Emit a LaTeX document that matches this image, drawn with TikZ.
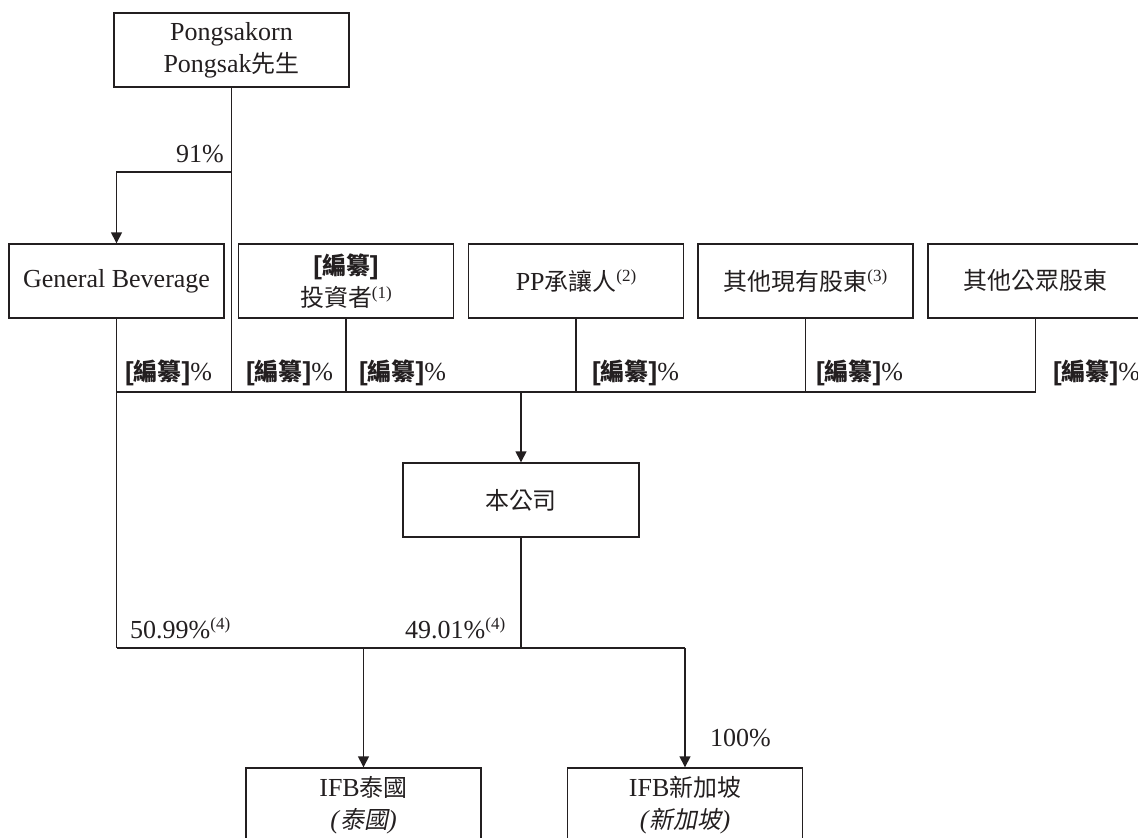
\documentclass[tikz,border=0pt]{standalone}
\usepackage{fontspec}
\setmainfont{Liberation Serif}
\newfontfamily\cjk{Noto Sans CJK TC}[Scale=0.92]
\newfontfamily\cjkit{Noto Sans CJK TC}[Scale=0.92,FakeSlant=0.2]
\newfontfamily\lsans{Liberation Sans}
\usetikzlibrary{arrows.meta}
\newcommand\C[1]{{\cjk #1}}
\newcommand\bz{{\lsans\bfseries[}{\cjk\bfseries 編纂}{\lsans\bfseries]}}
\newcommand\sups[1]{\raisebox{0.7ex}{\fontsize{17}{17}\selectfont(#1)}}
\definecolor{ink}{HTML}{231F20}
\tikzset{
  box/.style={draw=ink, line width=1.4pt, minimum width=215pt, minimum height=74pt, inner sep=0pt, align=center, text=ink},
  widebox/.style={box, minimum width=235pt},
  lbl/.style={inner sep=0pt, text=ink},
  conn/.style={draw=ink, line width=1.4pt},
  arr/.style={conn, -{Triangle[length=11pt,width=11pt]}}
}
\begin{document}
\begin{tikzpicture}[x=1pt,y=-1pt,font=\fontsize{26}{32}\selectfont]
\useasboundingbox (0,0) rectangle (1138,838);
% boxes
\node[widebox] (top) at (231.5,50) {Pongsakorn\\Pongsak\C{先生}};
\node[box] (gb) at (116.5,281) {General Beverage};
\node[box] (inv) at (346,281) {\bz\\\C{投資者}\sups{1}};
\node[box] (pp) at (576,281) {PP\C{承讓人}\sups{2}};
\node[box] (oe) at (805.5,281) {\C{其他現有股東}\sups{3}};
\node[box] (op) at (1035.5,281) {\C{其他公眾股東}};
\node[widebox, minimum width=236pt] (co) at (521,500) {\C{本公司}};
\node[widebox] (th) at (363.5,805) {IFB\C{泰國}\\\textit{(}{\cjkit 泰國}\textit{)}};
\node[widebox] (sg) at (685,805) {IFB\C{新加坡}\\\textit{(}{\cjkit 新加坡}\textit{)}};
% junction coordinates
\coordinate (p91) at (231.5,172);
\coordinate (jtop) at (231.5,392);
\coordinate (bl) at (116.5,392);
\coordinate (br) at (1035.5,392);
\coordinate (jco) at (521,392);
\coordinate (ll) at (116.5,648);
\coordinate (lr) at (685,648);
\coordinate (jth) at (363.5,648);
\coordinate (jcob) at (521,648);
% connectors
\draw[conn] (top.south) -- (jtop);
\draw[arr] (p91) -- (gb.north |- p91) -- (gb.north);
\draw[conn] (gb.south) -- (ll);
\draw[conn] (bl) -- (br);
\draw[conn] (inv.south) -- (inv.south |- bl);
\draw[conn] (pp.south) -- (pp.south |- bl);
\draw[conn] (oe.south) -- (oe.south |- bl);
\draw[conn] (op.south) -- (br);
\draw[arr] (jco) -- (co.north);
\draw[conn] (co.south) -- (jcob);
\draw[conn] (ll) -- (lr);
\draw[arr] (jth) -- (th.north);
\draw[arr] (lr) -- (sg.north);
% labels
\node[lbl, anchor=base east] (l91) at (224,162) {91\%};
\node[lbl, anchor=base west] (lgb) at (125,380) {\bz\%};
\node[lbl, anchor=base west] (lpk) at (246,380) {\bz\%};
\node[lbl, anchor=base west] (linv) at (359,380) {\bz\%};
\node[lbl, anchor=base west] (lpp) at (592,380) {\bz\%};
\node[lbl, anchor=base west] (loe) at (816,380) {\bz\%};
\node[lbl, anchor=base west] (lop) at (1053,380) {\bz\%};
\node[lbl, anchor=base west] (l5099) at (130,638) {50.99\%\sups{4}};
\node[lbl, anchor=base west] (l4901) at (405,638) {49.01\%\sups{4}};
\node[lbl, anchor=base west] (l100) at (710,746) {100\%};
\end{tikzpicture}
\end{document}
